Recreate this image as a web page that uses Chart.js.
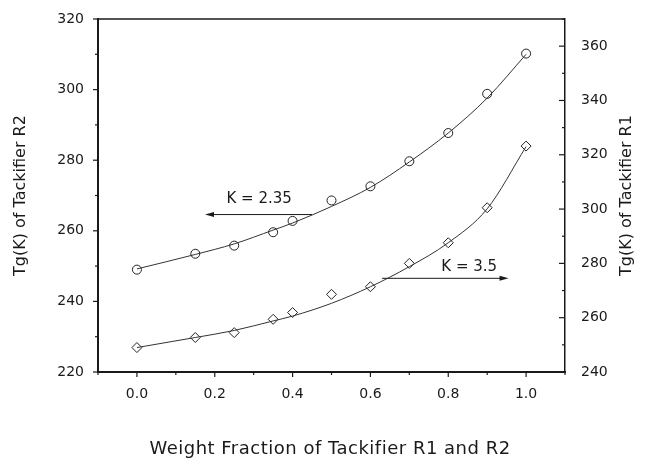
<!DOCTYPE html>
<html>
<head>
<meta charset="utf-8">
<script src="https://cdn.jsdelivr.net/npm/chart.js@4.4.1/dist/chart.umd.min.js"></script>
<style>
  html, body { margin: 0; padding: 0; background: #fff; }
  #wrap { width: 646px; height: 459px; position: relative; }
</style>
</head>
<body>
<div id="wrap"><canvas id="tgChart"></canvas></div>
<script>
// weight fraction of tackifier
var fraction = [0.0, 0.15, 0.25, 0.35, 0.4, 0.5, 0.6, 0.7, 0.8, 0.9, 1.0];

// Tg of tackifier R2 (left axis), measured points and fitted curve
var tgR2 = [249.0, 253.5, 255.8, 259.6, 262.8, 268.6, 272.6, 279.7, 287.7, 298.8, 310.2];
var tgR2Fit = [249.2, 253.3, 256.3, 260.2, 262.2, 266.9, 272.3, 279.5, 287.7, 297.6, 310.0];

// Tg of tackifier R1 (right axis), measured points and fitted curve
var tgR1 = [249.0, 252.7, 254.5, 259.4, 261.9, 268.6, 271.4, 280.0, 287.6, 300.5, 323.2];
var tgR1Fit = [249.0, 252.7, 255.3, 258.8, 260.6, 265.3, 271.4, 278.8, 287.6, 300.1, 323.0];

// tick values
var xMajor = [0.0, 0.2, 0.4, 0.6, 0.8, 1.0];
var xMinor = [-0.1, 0.1, 0.3, 0.5, 0.7, 0.9, 1.1];
var yMajor = [220, 240, 260, 280, 300, 320];
var yMinor = [230, 250, 270, 290, 310];
var y2Major = [240, 260, 280, 300, 320, 340, 360];
var y2Minor = [250, 270, 290, 310, 330, 350, 370];

var FONT = '"DejaVu Sans", sans-serif';
var INK = '#1a1a1a';

function pts(ys) {
  return fraction.map(function(x, i) { return { x: x, y: ys[i] }; });
}

// the two K arrows, in data units of their own axis
var notes = [
  { axis: 'y', label: 'K = 2.35', tx: 0.314, ty: 269.1, from: [0.45, 264.6], to: [0.175, 264.6] },
  { axis: 'y2', label: 'K = 3.5', tx: 0.854, ty: 278.5, from: [0.63, 274.5], to: [0.955, 274.5] }
];

var framePlugin = {
  id: 'frame',
  afterDraw: function(chart) {
    var ctx = chart.ctx;
    var a = chart.chartArea;
    var sx = chart.scales.x, sy = chart.scales.y, sy2 = chart.scales.y2;
    ctx.save();
    ctx.strokeStyle = INK;
    ctx.fillStyle = INK;

    // top edge of the box
    ctx.lineWidth = 1.5;
    ctx.beginPath();
    ctx.moveTo(a.left, a.top);
    ctx.lineTo(a.right, a.top);
    ctx.stroke();

    // tick marks
    ctx.lineWidth = 1.2;
    function tick(x0, y0, x1, y1) {
      ctx.beginPath(); ctx.moveTo(x0, y0); ctx.lineTo(x1, y1); ctx.stroke();
    }
    xMajor.forEach(function(v) { var p = sx.getPixelForValue(v); tick(p, a.bottom, p, a.bottom + 5); });
    xMinor.forEach(function(v) { var p = sx.getPixelForValue(v); tick(p, a.bottom, p, a.bottom + 3); });
    yMajor.forEach(function(v) { var p = sy.getPixelForValue(v); tick(a.left, p, a.left - 5, p); });
    yMinor.forEach(function(v) { var p = sy.getPixelForValue(v); tick(a.left, p, a.left - 3, p); });
    y2Major.forEach(function(v) { var p = sy2.getPixelForValue(v); tick(a.right, p, a.right - 6, p); });
    y2Minor.forEach(function(v) { var p = sy2.getPixelForValue(v); tick(a.right, p, a.right - 3, p); });

    // axis titles
    ctx.textAlign = 'center';
    ctx.textBaseline = 'middle';
    ctx.font = '18px ' + FONT;
    ctx.letterSpacing = '0.5px';
    ctx.fillText('Weight Fraction of Tackifier R1 and R2', 330, 449);
    ctx.letterSpacing = '0px';
    ctx.font = '16px ' + FONT;
    var midY = (a.top + a.bottom) / 2;
    ctx.save();
    ctx.translate(21, midY);
    ctx.rotate(-Math.PI / 2);
    ctx.fillText('Tg(K) of Tackifier R2', 0, 0);
    ctx.restore();
    ctx.save();
    ctx.translate(627, midY);
    ctx.rotate(-Math.PI / 2);
    ctx.fillText('Tg(K) of Tackifier R1', 0, 0);
    ctx.restore();

    // K annotations with arrows
    notes.forEach(function(n) {
      var ys = chart.scales[n.axis];
      var x0 = sx.getPixelForValue(n.from[0]), y0 = ys.getPixelForValue(n.from[1]);
      var x1 = sx.getPixelForValue(n.to[0]), y1 = ys.getPixelForValue(n.to[1]);
      var dir = x1 > x0 ? 1 : -1;
      ctx.lineWidth = 1;
      ctx.beginPath();
      ctx.moveTo(x0, y0);
      ctx.lineTo(x1 - dir * 6, y1);
      ctx.stroke();
      ctx.beginPath();
      ctx.moveTo(x1, y1);
      ctx.lineTo(x1 - dir * 9, y1 - 2.5);
      ctx.lineTo(x1 - dir * 9, y1 + 2.5);
      ctx.closePath();
      ctx.fill();
      ctx.font = '15px ' + FONT;
      ctx.fillText(n.label, sx.getPixelForValue(n.tx), ys.getPixelForValue(n.ty));
    });
    ctx.restore();
  }
};

function fixTicks(values) {
  return function(scale) {
    scale.ticks = values.map(function(v) { return { value: v }; });
  };
}

var tickFont = { family: FONT, size: 14 };

var ctx = document.getElementById('tgChart').getContext('2d');
var tgChart = new Chart(ctx, {
  type: 'line',
  data: {
    datasets: [
      {
        label: 'R2 fit',
        data: pts(tgR2Fit),
        yAxisID: 'y',
        borderColor: '#333',
        borderWidth: 1,
        pointRadius: 0,
        cubicInterpolationMode: 'monotone',
        fill: false
      },
      {
        label: 'R2',
        data: pts(tgR2),
        yAxisID: 'y',
        showLine: false,
        pointStyle: 'circle',
        pointRadius: 4.5,
        pointBorderWidth: 1,
        pointBorderColor: '#222',
        pointBackgroundColor: 'rgba(255,255,255,0)'
      },
      {
        label: 'R1 fit',
        data: pts(tgR1Fit),
        yAxisID: 'y2',
        borderColor: '#333',
        borderWidth: 1,
        pointRadius: 0,
        cubicInterpolationMode: 'monotone',
        fill: false
      },
      {
        label: 'R1',
        data: pts(tgR1),
        yAxisID: 'y2',
        showLine: false,
        pointStyle: 'rectRot',
        pointRadius: 5,
        pointBorderWidth: 1,
        pointBorderColor: '#222',
        pointBackgroundColor: 'rgba(255,255,255,0)'
      }
    ]
  },
  options: {
    responsive: true,
    maintainAspectRatio: false,
    animation: false,
    layout: { padding: { top: 19, left: 0, right: 0, bottom: 0 } },
    plugins: {
      legend: { display: false },
      tooltip: { enabled: false }
    },
    scales: {
      x: {
        type: 'linear',
        min: -0.1,
        max: 1.1,
        afterBuildTicks: fixTicks(xMajor),
        afterFit: function(s) { s.height = 87; },
        grid: { display: false },
        border: { display: true, color: INK, width: 2 },
        ticks: {
          font: tickFont,
          color: INK,
          padding: 6,
          maxRotation: 0,
          callback: function(v) { return v.toFixed(1); }
        }
      },
      y: {
        position: 'left',
        min: 220,
        max: 320,
        afterBuildTicks: fixTicks(yMajor),
        afterFit: function(s) { s.width = 98; },
        grid: { display: false },
        border: { display: true, color: INK, width: 2 },
        ticks: { font: tickFont, color: INK, padding: 6 }
      },
      y2: {
        position: 'right',
        min: 240,
        max: 370,
        afterBuildTicks: fixTicks(y2Major),
        afterFit: function(s) { s.width = 81; },
        grid: { display: false },
        border: { display: true, color: INK, width: 1.5 },
        ticks: { font: tickFont, color: INK, padding: 8 }
      }
    }
  },
  plugins: [framePlugin]
});
</script>
</body>
</html>
